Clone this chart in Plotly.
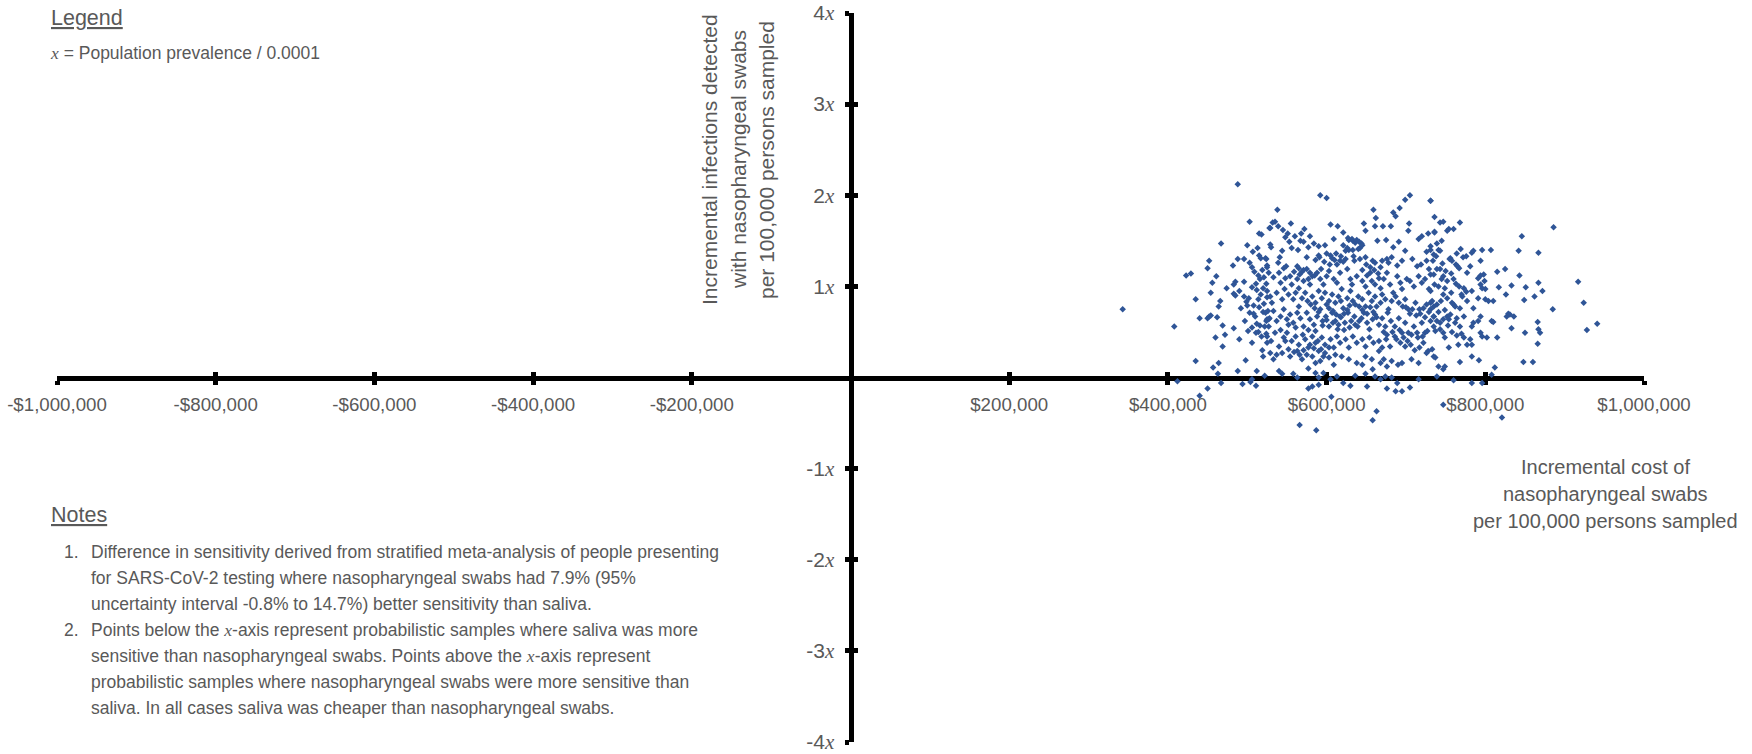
import plotly.graph_objects as go

# ---------------- data ----------------
cost_ticks = [-1000000, -800000, -600000, -400000, -200000, 200000, 400000, 600000, 800000, 1000000]
cost_tick_labels = ["-$1,000,000", "-$800,000", "-$600,000", "-$400,000", "-$200,000",
                    "$200,000", "$400,000", "$600,000", "$800,000", "$1,000,000"]
infection_ticks = [-4, -3, -2, -1, 1, 2, 3, 4]

# (incremental cost in $ thousands, incremental infections in multiples of x)
samples = [
    (343,0.75),(408,0.56),(488,2.12),(503,1.71),(467,1.47),(515,1.58),(518,1.57),(528,1.64),(500,1.45),(513,1.42),
    (507,1.38),(452,1.28),(450,1.20),(488,1.30),(496,1.30),(515,1.34),(517,1.31),(524,1.30),(423,1.12),(429,1.14),
    (461,1.11),(456,1.04),(482,1.23),(485,1.05),(483,1.02),(474,0.98),(496,1.05),(506,1.21),(511,1.03),(516,1.08),
    (512,0.96),(519,1.18),(525,1.21),(524,1.03),(454,0.93),(483,0.92),(485,0.90),(496,0.89),(502,0.87),(499,0.83),
    (500,0.79),(508,0.79),(514,0.86),(517,0.91),(525,0.88),(435,0.86),(466,0.84),(464,0.78),(440,0.65),(450,0.65),
    (452,0.67),(454,0.68),(462,0.66),(508,0.70),(510,0.67),(520,0.72),(526,0.73),(527,0.64),(512,0.59),(516,0.57),
    (522,0.56),(469,0.57),(483,0.54),(472,0.47),(460,0.44),(501,0.51),(511,0.49),(518,0.45),(525,0.38),(469,0.34),
    (519,0.30),(520,0.23),(498,0.19),(435,0.18),(464,0.16),(457,0.11),(463,0.04),(488,0.07),(512,0.07),(522,0.02),
    (412,-0.04),(450,-0.12),(440,-0.20),(467,-0.06),(494,-0.07),(504,-0.05),(506,-0.02),(511,-0.09),(525,0.64),
    (527,0.56),(524,0.62),(524,0.48),
    (592,2.00),(600,1.97),(538,1.84),(705,2.00),(699,1.95),(731,1.94),(692,1.86),(684,1.81),(659,1.84),(687,1.77),(662,1.75),
    (532,1.70),(535,1.71),(529,1.64),(539,1.66),(555,1.69),(572,1.63),(605,1.68),(614,1.66),(621,1.59),(647,1.69),(649,1.61),
    (661,1.66),(671,1.66),(681,1.66),(704,1.69),(703,1.61),(728,1.58),(736,1.60),
    (548,1.54),(553,1.49),(567,1.50),(571,1.49),(564,1.40),(590,1.44),(598,1.45),(609,1.52),(628,1.51),(633,1.50),(636,1.48),
    (642,1.42),(644,1.47),(628,1.40),(624,1.39),(664,1.50),(675,1.51),(691,1.49),(684,1.43),(716,1.52),(720,1.55),(731,1.44),
    (726,1.38),(529,1.46),(530,1.43),
    (523,1.31),(525,1.23),(539,1.26),(546,1.20),(549,1.22),(563,1.22),(575,1.32),(586,1.29),(590,1.34),(591,1.32),(593,1.19),
    (607,1.31),(610,1.29),(613,1.24),(617,1.28),(624,1.30),(634,1.33),(635,1.28),(642,1.30),(649,1.32),(658,1.28),(661,1.26),
    (670,1.28),(676,1.30),(678,1.26),(682,1.32),(689,1.23),(695,1.28),(699,1.39),(708,1.30),(714,1.22),(719,1.24),(726,1.28),
    (729,1.19),(731,1.13),(735,1.35),
    (527,1.15),(533,1.10),(540,1.15),(542,1.04),(548,1.09),(554,1.11),(556,1.02),(563,1.08),(565,0.98),(569,1.16),(575,1.19),
    (577,1.08),(579,1.02),(582,1.11),(588,1.15),(592,1.08),(596,1.02),(600,1.11),(603,1.17),(609,1.08),(613,1.04),(617,1.15),
    (619,0.97),(626,1.19),(630,1.08),(632,1.02),(638,1.11),(645,1.06),(649,1.00),(651,1.12),(655,1.15),(657,1.06),(661,1.02),
    (666,1.09),(668,0.98),(672,1.08),(676,1.15),(680,1.02),(684,0.93),(689,1.11),(693,1.04),(695,0.97),(701,1.08),(705,1.06),
    (710,1.00),(716,1.11),(720,1.04),(724,1.08),(729,0.97),(733,0.84),(736,1.02),
    (525,0.95),(529,0.89),(531,0.82),(537,0.93),(544,0.86),(547,0.97),(552,0.91),(558,0.86),(561,0.93),(565,0.78),(569,0.87),
    (573,0.93),(576,0.84),(582,0.89),(586,0.82),(590,0.95),(594,0.87),(598,0.93),(603,0.84),(607,0.91),(611,0.82),(615,0.89),
    (618,0.84),(621,0.76),(626,0.87),(630,0.95),(633,0.84),(636,0.80),(640,0.89),(645,0.86),(649,0.78),(653,0.93),(657,0.84),
    (661,0.89),(663,0.78),(668,0.82),(670,0.91),(674,0.86),(678,0.75),(682,0.84),(687,0.89),(691,0.82),(696,0.78),(699,0.86),
    (703,0.75),(708,0.75),(712,0.82),(717,0.75),(722,0.76),(726,0.80),(731,0.75),(735,0.67),
    (523,0.71),(528,0.65),(533,0.73),(537,0.62),(542,0.67),(546,0.75),(550,0.64),(554,0.69),(558,0.60),(563,0.71),(567,0.65),
    (571,0.56),(575,0.71),(579,0.64),(584,0.58),(588,0.67),(592,0.75),(595,0.62),(599,0.67),(603,0.56),(607,0.71),(611,0.62),
    (614,0.53),(617,0.67),(623,0.60),(627,0.71),(631,0.62),(635,0.67),(639,0.56),(644,0.65),(647,0.71),(651,0.60),(654,0.53),
    (658,0.64),(661,0.69),(666,0.58),(670,0.65),(674,0.56),(677,0.71),(681,0.62),(686,0.56),(691,0.65),(695,0.49),(699,0.60),
    (703,0.49),(710,0.56),(714,0.49),(720,0.60),(724,0.49),(731,0.62),(735,0.56),
    (525,0.45),(530,0.40),(535,0.49),(540,0.34),(546,0.44),(550,0.49),(556,0.40),(561,0.45),(565,0.36),(570,0.47),(573,0.42),
    (577,0.33),(582,0.45),(586,0.38),(590,0.29),(594,0.44),(598,0.36),(605,0.42),(609,0.33),(613,0.45),(617,0.38),(624,0.42),
    (628,0.33),(633,0.45),(638,0.38),(645,0.42),(649,0.34),(654,0.44),(659,0.38),(666,0.40),(670,0.33),(675,0.42),(680,0.34),
    (686,0.45),(693,0.38),(699,0.34),(707,0.47),(715,0.44),(722,0.38),(728,0.29),(733,0.31),
    (537,0.25),(544,0.27),(554,0.23),(563,0.29),(569,0.20),(575,0.25),(582,0.23),(586,0.16),(592,0.18),(596,0.23),(603,0.22),
    (609,0.14),(611,0.25),(619,0.23),(628,0.20),(638,0.16),(645,0.14),(649,0.23),(657,0.20),(666,0.29),(668,0.16),(672,0.20),
    (676,0.12),(682,0.18),(690,0.14),(695,0.16),(707,0.20),(716,0.16),(726,0.27),(529,0.27),(533,0.20),
    (540,0.07),(544,0.04),(558,0.04),(563,0.00),(577,0.10),(586,0.05),(590,0.00),(605,-0.02),(613,0.01),(621,-0.06),(630,-0.09),
    (636,0.02),(649,0.04),(651,-0.10),(658,0.09),(661,0.01),(668,-0.02),(674,0.01),(682,0.00),(689,-0.06),(695,-0.15),(687,-0.15),
    (676,-0.12),(705,-0.11),(716,-0.02),(582,-0.10),(577,-0.12),(590,-0.08),(596,0.05),
    (606,-0.21),(663,-0.37),(658,-0.47),(566,-0.52),(587,-0.58),
    (731,1.94),(736,1.76),(743,1.70),(747,1.71),(752,1.61),(754,1.63),(760,1.63),(768,1.70),(736,1.59),(745,1.50),(739,1.47),
    (741,1.40),(743,1.39),(731,1.40),(886,1.65),(846,1.55),(756,1.31),(755,1.30),(758,1.28),(764,1.36),(769,1.41),(772,1.32),
    (776,1.33),(783,1.37),(785,1.39),(796,1.40),(794,1.28),(807,1.40),(763,1.24),(765,1.22),(767,1.20),(781,1.22),(777,1.15),
    (794,1.12),(798,1.13),(791,1.09),(799,1.06),(743,1.19),(739,1.19),(735,1.13),(747,1.11),(745,1.08),(752,1.06),(760,1.08),
    (741,1.00),(749,0.98),(731,0.95),(747,0.91),(773,0.98),(776,0.94),(770,0.91),(771,0.89),(783,0.95),(794,1.02),(796,0.98),
    (800,0.97),(791,0.87),(800,0.86),(804,0.84),(810,0.84),(815,1.16),(825,1.19),(817,0.99),(833,1.01),(843,1.12),(842,1.39),
    (867,1.37),(851,0.99),(867,1.04),(872,0.95),(862,0.89),(849,0.85),(826,0.91),(917,1.05),(924,0.82),(885,0.75),(941,0.59),
    (928,0.52),(731,0.82),(735,0.78),(739,0.80),(735,0.67),(739,0.62),(743,0.60),(747,0.64),(752,0.67),(754,0.64),(758,0.82),
    (760,0.80),(762,0.78),(756,0.69),(764,0.65),(768,0.76),(762,0.60),(768,0.56),(777,0.84),(785,0.76),(773,0.67),(783,0.56),
    (785,0.60),(791,0.62),(794,0.67),(808,0.62),(810,0.61),(827,0.67),(829,0.70),(831,0.69),(836,0.67),(833,0.54),(866,0.61),
    (867,0.53),(869,0.49),(850,0.49),(815,0.44),(802,0.44),(794,0.49),(796,0.45),(781,0.42),(783,0.36),(777,0.36),(773,0.44),
    (766,0.36),(754,0.33),(747,0.49),(749,0.44),(737,0.51),(743,0.53),(735,0.23),(737,0.22),(741,0.12),(749,0.12),(747,0.09),
    (768,0.17),(783,0.23),(792,0.19),(848,0.17),(860,0.17),(866,0.37),(812,0.11),(808,0.03),(739,0.01),(760,-0.03),(783,-0.06),
    (796,-0.06),(747,-0.30),(821,-0.44),
    (627,1.53),(632,1.52),(638,1.51),(641,1.49),(645,1.45),(640,1.41),(633,1.40),(626,1.42),(621,1.45),
    (600,1.36),(605,1.34),(612,1.36),(618,1.33),(621,1.27),(604,1.24),(597,1.27),
    (565,1.20),(571,1.18),(579,1.15),(585,1.12),(571,1.06),(566,1.13),(559,1.16),
    (650,1.24),(655,1.21),(660,1.18),(665,1.14),(668,1.21),(645,1.18),
    (600,0.80),(603,0.76),(608,0.73),(612,0.69),(618,0.66),(622,0.70),(626,0.74),(629,0.79),(641,0.78),(645,0.74),
    (651,0.70),(655,0.77),(659,0.72),(663,0.66),(641,0.62),(636,0.58),(629,0.55),(622,0.52),(615,0.58),(608,0.60),
    (600,0.63),(595,0.57),(590,0.72),(585,0.76),(580,0.80),
    (542,0.52),(548,0.40),(552,0.31),(559,0.28),(566,0.25),(571,0.30),(579,0.36),(584,0.32),(589,0.40),(593,0.31),
    (598,0.27),(603,0.33),(586,0.51),(577,0.52),(561,0.55),(552,0.58),
    (672,0.50),(676,0.47),(683,0.50),(688,0.42),(692,0.52),(697,0.44),(702,0.40),(706,0.36),(711,0.30),(717,0.33),
    (721,0.45),(727,0.51),(713,0.68),(718,0.70),(724,0.66),(729,0.72),(705,0.70),(700,0.77),
    (545,1.62),(551,1.58),(560,1.55),(568,1.58),(579,1.55),(584,1.47),(577,1.43),(556,1.42),(544,1.39),(541,1.32),
    (734,1.28),(738,1.33),(746,1.25),(750,1.17),(757,1.14),(763,1.03),(767,1.00),(757,0.93),(752,0.87),(744,0.84),
    (741,0.72),(749,0.74),(753,0.57),(758,0.50),(764,0.46),(770,0.48),
    (503,1.26),(509,1.16),(514,1.12),(521,1.10),(506,0.99),(520,0.98),(490,0.95),(492,0.76),(503,0.71),(515,0.77),
    (521,0.81),(497,0.62),(506,0.55),(514,0.50),(490,0.42),(506,0.38),
]

x_title_lines = ["Incremental cost of", "nasopharyngeal swabs", "per 100,000 persons sampled"]
y_title_lines = ["Incremental infections detected", "with nasopharyngeal swabs", "per 100,000 persons sampled"]
legend_title = "Legend"
XI = "<span style=\"font-family:Liberation Serif, Times New Roman, serif\"><i>x</i></span>"
legend_text = XI + " = Population prevalence / 0.0001"
notes_title = "Notes"
notes = [
    ("1.", ["Difference in sensitivity derived from stratified meta-analysis of people presenting",
            "for SARS-CoV-2 testing where nasopharyngeal swabs had 7.9% (95%",
            "uncertainty interval -0.8% to 14.7%) better sensitivity than saliva."]),
    ("2.", ["Points below the " + XI + "-axis represent probabilistic samples where saliva was more",
            "sensitive than nasopharyngeal swabs. Points above the " + XI + "-axis represent",
            "probabilistic samples where nasopharyngeal swabs were more sensitive than",
            "saliva. In all cases saliva was cheaper than nasopharyngeal swabs."]),
]

cost = [c * 1000 for c, _ in samples]
infections = [v for _, v in samples]
infection_tick_labels = [f"{v}" + XI for v in infection_ticks]

# ---------------- figure ----------------
W, H = 1752, 754
L, R, T, B = 57, 108, 13, 12
PW, PH = W - L - R, H - T - B
FONT = "Liberation Sans Narrow, Arial Narrow, Liberation Sans, Arial, sans-serif"
GREY = "#595959"


def px(x):
    return (x - L) / PW


def py(y):
    return (H - B - y) / PH


fig = go.Figure()
fig.add_trace(go.Scatter(
    x=cost, y=infections, mode="markers",
    marker=dict(symbol="diamond", size=5, color="#2F5597", line=dict(width=0)),
    hoverinfo="skip", showlegend=False,
))
fig.add_trace(go.Scatter(x=[None], y=[None], xaxis="x2", yaxis="y2",
                         mode="markers", hoverinfo="skip", showlegend=False))

axis_common = dict(showgrid=False, zeroline=False, showline=True, linecolor="black",
                   linewidth=5, tickcolor="black", tickwidth=5, ticklen=4,
                   anchor="free", position=0.5, layer="below traces", fixedrange=True,
                   automargin=False)

fig.update_layout(
    width=W, height=H,
    margin=dict(l=L, r=R, t=T, b=B, pad=0),
    paper_bgcolor="white", plot_bgcolor="white",
    font=dict(family=FONT, color=GREY),
    xaxis=dict(range=[-1000000, 1000000], tickvals=cost_ticks, ticktext=cost_tick_labels,
               ticks="outside", tickfont=dict(size=18.7, color=GREY, family=FONT),
               ticklabelstandoff=4, ticklabeloverflow="allow", **axis_common),
    yaxis=dict(range=[-4, 4], tickvals=infection_ticks, ticktext=infection_tick_labels,
               ticks="outside", tickfont=dict(size=21, color=GREY, family=FONT),
               ticklabelstandoff=6, ticklabeloverflow="allow", **axis_common),
    xaxis2=dict(range=[-1000000, 1000000], overlaying="x", tickvals=cost_ticks,
                ticks="inside", showticklabels=False, **axis_common),
    yaxis2=dict(range=[-4, 4], overlaying="y", tickvals=infection_ticks,
                ticks="inside", showticklabels=False, **axis_common),
)

TITLE_FONT = dict(size=20, color=GREY, family=FONT)
YTITLE_FONT = dict(size=21, color=GREY, family=FONT)
TEXT_FONT = dict(size=17.5, color=GREY, family=FONT)
HEAD_FONT = dict(size=21.5, color=GREY, family=FONT)

ann = []
for ln, xc in zip(y_title_lines, [710, 739, 767]):
    ann.append(dict(x=px(xc), y=py(160), xref="paper", yref="paper", textangle=-90,
                    text=ln, showarrow=False, xanchor="center", yanchor="middle", font=YTITLE_FONT))
for ln, yc in zip(x_title_lines, [467, 494, 521]):
    ann.append(dict(x=px(1605), y=py(yc), xref="paper", yref="paper",
                    text=ln, showarrow=False, xanchor="center", yanchor="middle", font=TITLE_FONT))
ann.append(dict(x=px(49), y=py(18), xref="paper", yref="paper", text="<u>" + legend_title + "</u>",
                showarrow=False, xanchor="left", yanchor="middle", font=HEAD_FONT))
ann.append(dict(x=px(48), y=py(53), xref="paper", yref="paper", text=legend_text,
                showarrow=False, xanchor="left", yanchor="middle", font=TEXT_FONT))
ann.append(dict(x=px(49), y=py(515), xref="paper", yref="paper", text="<u>" + notes_title + "</u>",
                showarrow=False, xanchor="left", yanchor="middle", font=HEAD_FONT))
line_y = 552.0
for num, lines in notes:
    ann.append(dict(x=px(62), y=py(line_y), xref="paper", yref="paper", text=num,
                    showarrow=False, xanchor="left", yanchor="middle", font=TEXT_FONT))
    for ln in lines:
        ann.append(dict(x=px(89), y=py(line_y), xref="paper", yref="paper", text=ln,
                        showarrow=False, xanchor="left", yanchor="middle", font=TEXT_FONT))
        line_y += 26.0
fig.update_layout(annotations=ann)

fig.write_html("out.html", config={"displayModeBar": False},
               post_script="document.body.style.margin='0';document.body.style.overflow='hidden';")
